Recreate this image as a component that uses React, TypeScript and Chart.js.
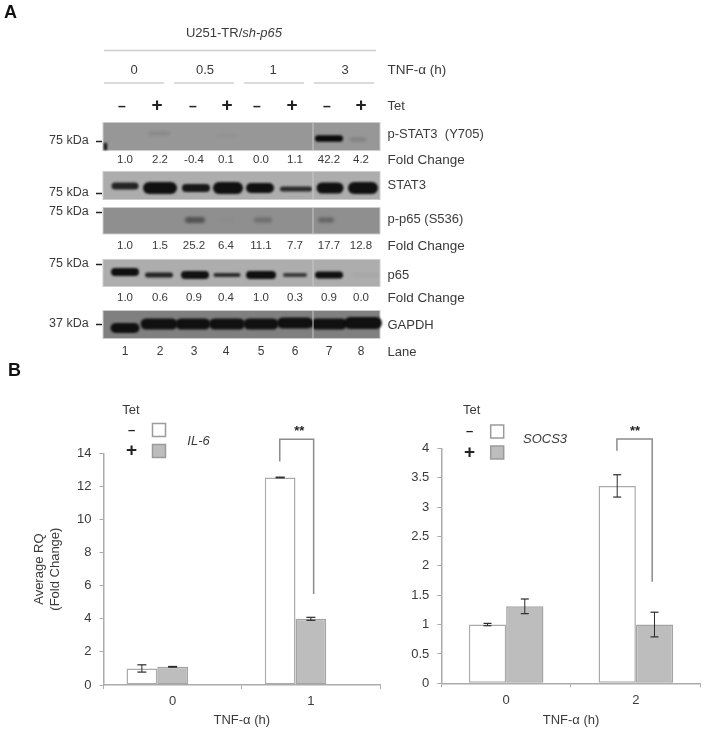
import React, { useEffect, useRef } from "react";
import { Chart, registerables } from "chart.js";
Chart.register(...registerables);

const TIME_GROUPS = ["0", "0.5", "1", "3"];
const TET_STATES = ["-", "+", "-", "+", "-", "+", "-", "+"];
const LANES = [1, 2, 3, 4, 5, 6, 7, 8];
const PSTAT3_BAND = [0, 0.09, 0, 0.02, 0, 0, 1, 0.15];
const STAT3_BAND = [0.85, 0.97, 0.92, 0.97, 0.97, 0.8, 0.97, 0.97];
const PP65_BAND = [0, 0, 0.45, 0.02, 0.25, 0, 0.32, 0];
const P65_BAND = [0.97, 0.85, 0.95, 0.8, 0.97, 0.7, 0.97, 0.05];
const GAPDH_BAND = [0.95, 0.95, 0.95, 0.95, 0.95, 0.95, 0.95, 0.95];
const PSTAT3_FOLD = ["1.0", "2.2", "-0.4", "0.1", "0.0", "1.1", "42.2", "4.2"];
const PP65_FOLD = ["1.0", "1.5", "25.2", "6.4", "11.1", "7.7", "17.7", "12.8"];
const P65_FOLD = ["1.0", "0.6", "0.9", "0.4", "1.0", "0.3", "0.9", "0.0"];

const IL6_TIMES = ["0", "1"];
const IL6_MINUS = [1.0, 12.54];
const IL6_PLUS = [1.1, 4.0];
const IL6_MINUS_ERR = [0.22, 0.02];
const IL6_PLUS_ERR = [0.02, 0.09];
const SOCS3_TIMES = ["0", "2"];
const SOCS3_MINUS = [1.0, 3.36];
const SOCS3_PLUS = [1.31, 1.0];
const SOCS3_MINUS_ERR = [0.02, 0.19];
const SOCS3_PLUS_ERR = [0.125, 0.21];

const TEXT = "#3a3a3a";
const FONT = '"Liberation Sans", Arial, sans-serif';
const AXIS = "#ababab";
const GREY_BAR = "#bdbdbd";

// layout of the western-blot strips (page pixels)
const ROWS: any[] = [
  { name: "p-STAT3  (Y705)", bands: PSTAT3_BAND, top: 122.5, bottom: 150.5, bg: "#979797", mid: 138.5, thick: [4, 4, 4, 4, 4, 4, 6.5, 4], widths: [20, 22, 20, 20, 20, 20, 28, 16], dx: [0, 0, 0, 0, 0, 0, 0, -5], shift: [0, -5, 0, -3, 0, 0, 0, 1], labelY: 134, kdaY: 141, kda: "75 kDa", fold: PSTAT3_FOLD, foldY: 160 },
  { name: "STAT3", bands: STAT3_BAND, top: 171.5, bottom: 199.5, bg: "#adadad", mid: 188, thick: [7, 12, 8, 12, 10, 5, 11, 12], widths: [27, 34, 28, 30, 28, 32, 27, 30], dx: [0, 1, 3, 1, -1, 1, 1, 0], shift: [-2, 0, 0, 0, 0, 1, 0, 0], labelY: 185, kdaY: 193, kda: "75 kDa", foldY: 0 },
  { name: "p-p65 (S536)", bands: PP65_BAND, top: 207.5, bottom: 234, bg: "#8f8f8f", mid: 220, thick: [4, 4, 6, 4, 5, 4, 5, 4], widths: [20, 20, 20, 14, 18, 20, 16, 20], dx: [0, 0, 2, 0, 2, 0, -3, 0], shift: [0, 0, 0, 0, 0, 0, 0, 0], labelY: 219, kdaY: 212, kda: "75 kDa", fold: PP65_FOLD, foldY: 246 },
  { name: "p65", bands: P65_BAND, top: 259.5, bottom: 286.5, bg: "#adadad", mid: 275, thick: [8, 5, 8, 4, 8, 4, 7, 3], widths: [28, 28, 28, 27, 30, 24, 28, 26], dx: [0, 0, 2, 0, 0, 0, 0, 2], shift: [-3, 0, 0, 0, 0, 0, 0, 0], labelY: 275, kdaY: 264, kda: "75 kDa", fold: P65_FOLD, foldY: 298 },
  { name: "GAPDH", bands: GAPDH_BAND, top: 310.5, bottom: 338.5, bg: "#808080", mid: 324, thick: [10, 11, 11, 11, 11, 11, 11, 12], widths: [29, 37, 35, 36, 35, 36, 36, 38], dx: [0, 0, 0, 0, 0, 0, 0, 0], shift: [4, 0, 0, 0, 0, -1, 0, -1], labelY: 325, kdaY: 324, kda: "37 kDa", foldY: 0 },
];

const LANE_TEXT_NUDGE = [0, 1, 1, -1, 0, 0, 0, -2];
const TET_X_NUDGE = [-3, -2, 0, 0, -4, -3, -2, -2];
const TIME_LABEL_NUDGE = [-8, -5, -5, -1];
const BLOT_LEFT = 103;
const BLOT_RIGHT = 380;
const SEAM_X = 313;

function txt(ctx: any, s: string, x: number, y: number, font: string, align = "left", color = TEXT) {
  ctx.font = font;
  ctx.textAlign = align;
  ctx.textBaseline = "middle";
  ctx.fillStyle = color;
  ctx.fillText(s, x, y);
}

function seg(ctx: any, x1: number, y1: number, x2: number, y2: number, color: string, w: number) {
  ctx.strokeStyle = color;
  ctx.lineWidth = w;
  ctx.beginPath();
  ctx.moveTo(x1, y1);
  ctx.lineTo(x2, y2);
  ctx.stroke();
}

const blotPlugin = {
  id: "blot",
  beforeDatasetsDraw(chart: any) {
    const ctx = chart.ctx;
    const x = chart.scales.x;
    const laneX = (l: number) => x.getPixelForValue(l);
    const sans = (n: number) => `${n}px ${FONT}`;
    ctx.save();
    txt(ctx, "A", 4, 13, `bold 18px ${FONT}`, "left", "#111");
    txt(ctx, "B", 8, 371, `bold 18px ${FONT}`, "left", "#111");

    // header
    const a = "U251-TR/";
    const b = "sh-p65";
    ctx.font = sans(13);
    const wa = ctx.measureText(a).width;
    ctx.font = `italic ${sans(13)}`;
    const wb = ctx.measureText(b).width;
    const hx = 234 - (wa + wb) / 2;
    txt(ctx, a, hx, 33, sans(13));
    txt(ctx, b, hx + wa, 33, `italic ${sans(13)}`);
    seg(ctx, 104, 50.5, 376, 50.5, "#cfcfcf", 1.5);

    // time groups
    TIME_GROUPS.forEach((g, i) => {
      const l = laneX(1 + i * 2);
      const r = laneX(2 + i * 2);
      txt(ctx, g, (l + r) / 2 + TIME_LABEL_NUDGE[i], 70, sans(13), "center");
      seg(ctx, l - 21 + i * 2, 83, r + 5 + i * 2, 83, "#cfcfcf", 1.5);
    });
    txt(ctx, "TNF-α (h)", 387.5, 70, sans(13.5));

    // tet row
    TET_STATES.forEach((s, i) => {
      const px = laneX(LANES[i]) + TET_X_NUDGE[i];
      if (s === "-") txt(ctx, "–", px, 107, `bold 14px ${FONT}`, "center", "#222");
      else txt(ctx, "+", px, 105.5, `bold 19px ${FONT}`, "center", "#222");
    });
    txt(ctx, "Tet", 387.5, 106, sans(13));

    // strips
    ROWS.forEach((row) => {
      ctx.fillStyle = row.bg;
      ctx.fillRect(BLOT_LEFT, row.top, BLOT_RIGHT - BLOT_LEFT, row.bottom - row.top);
      ctx.strokeStyle = "#cdcdcd";
      ctx.lineWidth = 1;
      ctx.strokeRect(BLOT_LEFT, row.top, BLOT_RIGHT - BLOT_LEFT, row.bottom - row.top);
      txt(ctx, row.name, 387.5, row.labelY, sans(13));
      txt(ctx, row.kda, 49, row.kdaY, sans(12.5));
      seg(ctx, 96, row.kdaY + 0.5, 102, row.kdaY + 0.5, "#222", 1.5);
      if (row.fold) {
        row.fold.forEach((f: string, i: number) =>
          txt(ctx, f, laneX(LANES[i]) + LANE_TEXT_NUDGE[i], row.foldY, sans(11.5), "center")
        );
        txt(ctx, "Fold Change", 387.5, row.foldY, sans(13.5));
      }
    });
    LANES.forEach((l, i) => txt(ctx, String(l), laneX(l) + LANE_TEXT_NUDGE[i], 352, sans(12), "center"));
    txt(ctx, "Lane", 387.5, 352, sans(13));
    ctx.restore();
  },
  afterDatasetsDraw(chart: any) {
    const ctx = chart.ctx;
    ctx.save();
    chart.data.datasets.forEach((ds: any, di: number) => {
      const row = ROWS[di];
      const meta = chart.getDatasetMeta(di);
      meta.data.forEach((pt: any, i: number) => {
        const a = row.bands[i];
        if (a <= 0) return;
        const w = row.widths[i];
        const t = row.thick[i];
        ctx.filter = a < 0.6 ? "blur(1.7px)" : "blur(1.1px)";
        ctx.fillStyle = `rgba(10,10,10,${a})`;
        ctx.beginPath();
        ctx.roundRect(pt.x + row.dx[i] - w / 2, pt.y + row.shift[i] - t / 2, w, t, t / 2);
        ctx.fill();
      });
    });
    ctx.filter = "none";
    ROWS.forEach((row) => seg(ctx, SEAM_X, row.top, SEAM_X, row.bottom, "#c9c9c9", 1));
    ctx.filter = "blur(0.8px)";
    ctx.fillStyle = "#111";
    ctx.fillRect(104, 143, 3, 7);
    ctx.restore();
  },
};

function barChartPlugin(cfg: any) {
  return {
    id: "annot",
    afterDatasetsDraw(chart: any) {
      const ctx = chart.ctx;
      const xs = chart.scales.x;
      const ys = chart.scales.y;
      ctx.save();
      // error bars
      chart.data.datasets.forEach((ds: any, di: number) => {
        if (!ds.errors) return;
        chart.getDatasetMeta(di).data.forEach((bar: any, i: number) => {
          const v = ds.data[i];
          const e = ds.errors[i];
          const top = ys.getPixelForValue(v + e);
          const bot = ys.getPixelForValue(v - e);
          seg(ctx, bar.x, top, bar.x, bot, "#2b2b2b", 1);
          seg(ctx, bar.x - cfg.cap, top, bar.x + cfg.cap, top, "#2b2b2b", 1.2);
          seg(ctx, bar.x - cfg.cap, bot, bar.x + cfg.cap, bot, "#2b2b2b", 1.2);
        });
      });
      // significance bracket
      const cx = xs.getPixelForValue(1);
      const catW = xs.getPixelForValue(1) - xs.getPixelForValue(0);
      const xl = cx + cfg.bracket.left * catW;
      const xr = cx + cfg.bracket.right * catW;
      ctx.strokeStyle = "#8c8c8c";
      ctx.lineWidth = 1.5;
      ctx.beginPath();
      ctx.moveTo(xl, ys.getPixelForValue(cfg.bracket.leftFoot));
      ctx.lineTo(xl, ys.getPixelForValue(cfg.bracket.top));
      ctx.lineTo(xr, ys.getPixelForValue(cfg.bracket.top));
      ctx.lineTo(xr, ys.getPixelForValue(cfg.bracket.rightFoot));
      ctx.stroke();
      txt(ctx, "**", (xl + xr) / 2 + cfg.starNudge, ys.getPixelForValue(cfg.bracket.top) - 8, `bold 13px ${FONT}`, "center", "#222");
      // legend
      const L = cfg.legend;
      txt(ctx, "Tet", L.tetX, L.tetY, `13px ${FONT}`, "center");
      chart.data.datasets.forEach((ds: any, di: number) => {
        if (!ds.errors) return;
        const y = L.rowY[di];
        if (ds.label === "-") txt(ctx, "–", L.signX, y, `bold 13px ${FONT}`, "center", "#222");
        else txt(ctx, "+", L.signX, y, `bold 19px ${FONT}`, "center", "#222");
        ctx.fillStyle = ds.backgroundColor;
        ctx.strokeStyle = "#9b9b9b";
        ctx.lineWidth = 1.5;
        ctx.fillRect(L.boxX, y - 6.5, 13, 13);
        ctx.strokeRect(L.boxX, y - 6.5, 13, 13);
      });
      txt(ctx, cfg.gene, L.geneX, L.geneY, `italic 13px ${FONT}`, "center");
      ctx.restore();
    },
  };
}

function makeBarOptions(c: any) {
  return {
    responsive: false,
    animation: false,
    devicePixelRatio: 1,
    layout: { padding: { top: c.top, right: c.right, left: 0, bottom: 0 } },
    plugins: { legend: { display: false }, tooltip: { enabled: false } },
    scales: {
      x: {
        grid: { drawOnChartArea: false, drawTicks: true, tickLength: 4, color: AXIS, offset: true },
        border: { color: AXIS, width: 1.5 },
        ticks: { color: TEXT, font: { family: FONT, size: 13 }, padding: 5 },
        title: { display: true, text: "TNF-α (h)", color: TEXT, font: { family: FONT, size: 13 }, padding: { top: 0, bottom: 4 } },
        afterFit: (s: any) => { s.height = c.axisH; },
      },
      y: {
        min: 0,
        max: c.max,
        grid: { drawOnChartArea: false, drawTicks: true, tickLength: 4, color: AXIS },
        border: { color: AXIS, width: 1.5 },
        ticks: { stepSize: c.step, color: TEXT, font: { family: FONT, size: 13 }, padding: 8, callback: (v: any) => String(v) },
        title: c.yTitle
          ? { display: true, text: c.yTitle, color: TEXT, font: { family: FONT, size: 13, lineHeight: 1.25 }, padding: { top: 31, bottom: 0 } }
          : { display: false },
        afterFit: (s: any) => { s.width = c.axisW; },
      },
    },
  };
}

export default function App() {
  const blotRef = useRef<HTMLCanvasElement>(null);
  const il6Ref = useRef<HTMLCanvasElement>(null);
  const socsRef = useRef<HTMLCanvasElement>(null);

  useEffect(() => {
    const pxPerLane = 34;
    const xMin = 1 - 125 / pxPerLane;
    const blot = new Chart(blotRef.current as any, {
      type: "scatter",
      data: {
        datasets: ROWS.map((r) => ({
          label: r.name,
          data: LANES.map((l) => ({ x: l, y: r.mid })),
          pointRadius: 0,
        })),
      },
      options: {
        responsive: false,
        animation: false,
        devicePixelRatio: 1,
        layout: { padding: 0 },
        plugins: { legend: { display: false }, tooltip: { enabled: false } },
        scales: {
          x: { type: "linear", display: false, min: xMin, max: xMin + 705 / pxPerLane },
          y: { type: "linear", display: false, min: 0, max: 395, reverse: true },
        },
      },
      plugins: [blotPlugin],
    } as any);

    const mk = (canvas: any, labels: string[], minus: number[], plus: number[], me: number[], pe: number[], pct: number, spacer: boolean, opt: any, cfg: any) =>
      new Chart(canvas, {
        type: "bar",
        data: {
          labels,
          datasets: [
            { label: "-", data: minus, errors: me, backgroundColor: "#ffffff", borderColor: AXIS, borderWidth: 1.5, borderSkipped: false, categoryPercentage: pct, barPercentage: 1 },
            { label: "+", data: plus, errors: pe, backgroundColor: GREY_BAR, borderColor: "#a3a3a3", borderWidth: 1.5, borderSkipped: false, categoryPercentage: pct, barPercentage: 1 },
            // the source chart keeps an empty third series, which pushes its bars left of the tick label
            ...(spacer ? [{ label: "", data: [null, null], categoryPercentage: pct, barPercentage: 1 }] : []),
          ],
        },
        options: makeBarOptions(opt) as any,
        plugins: [barChartPlugin(cfg)],
      } as any);

    const il6 = mk(
      il6Ref.current, IL6_TIMES, IL6_MINUS, IL6_PLUS, IL6_MINUS_ERR, IL6_PLUS_ERR, 0.667, true,
      { top: 58.3, right: 5, max: 14, step: 2, axisW: 103.5, axisH: 47, yTitle: ["Average RQ", "(Fold Change)"] },
      {
        cap: 4.5, gene: "IL-6", starNudge: 2.5,
        bracket: { left: -0.225, right: 0.02, top: 14.85, leftFoot: 13.5, rightFoot: 5.5 },
        legend: { tetX: 131, tetY: 15.7, signX: 131.5, rowY: [35, 56], boxX: 152.5, geneX: 198.5, geneY: 46.7 },
      }
    );
    const socs = mk(
      socsRef.current, SOCS3_TIMES, SOCS3_MINUS, SOCS3_PLUS, SOCS3_MINUS_ERR, SOCS3_PLUS_ERR, 0.575, false,
      { top: 53.3, right: 4.3, max: 4, step: 0.5, axisW: 81.3, axisH: 48.7, yTitle: null },
      {
        cap: 4, gene: "SOCS3", starNudge: 0.5,
        bracket: { left: -0.146, right: 0.126, top: 4.158, leftFoot: 3.96, rightFoot: 1.73 },
        legend: { tetX: 111.7, tetY: 15.7, signX: 109.5, rowY: [36.5, 57.5], boxX: 130.7, geneX: 185, geneY: 44 },
      }
    );
    return () => { blot.destroy(); il6.destroy(); socs.destroy(); };
  }, []);

  const abs = (left: number, top: number): React.CSSProperties => ({ position: "absolute", left, top, display: "block", filter: "blur(0.35px)" });
  return (
    <div style={{ position: "fixed", left: 0, top: 0, width: 705, height: 732, overflow: "hidden", background: "#fff" }}>
      <canvas ref={blotRef} width={705} height={395} style={abs(0, 0)} />
      <canvas ref={il6Ref} width={385} height={337} style={abs(0, 395)} />
      <canvas ref={socsRef} width={345} height={337} style={abs(360, 395)} />
    </div>
  );
}
